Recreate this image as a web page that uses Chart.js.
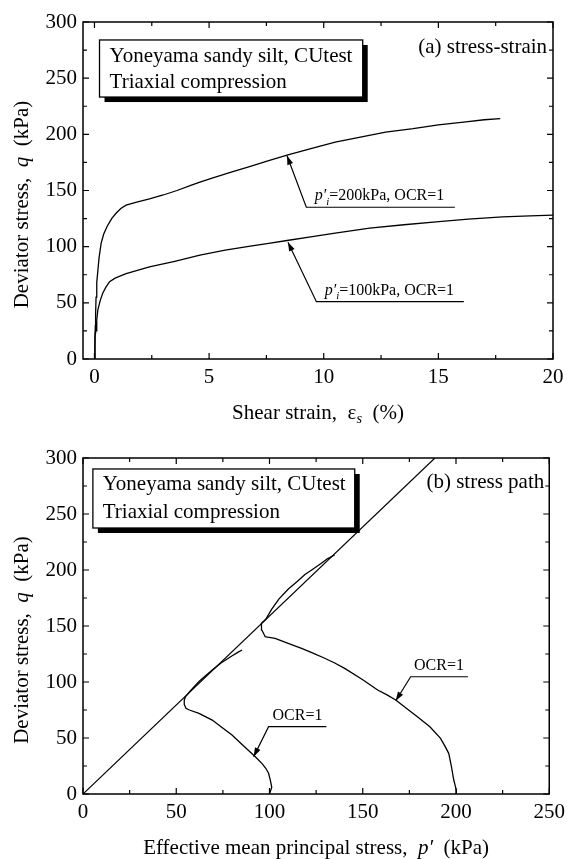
<!DOCTYPE html>
<html><head><meta charset="utf-8">
<script src="https://cdn.jsdelivr.net/npm/chart.js@4/dist/chart.umd.min.js"></script>
<style>
html,body{margin:0;padding:0;background:#fff;width:571px;height:859px;overflow:hidden;position:relative}
#c1{position:absolute;left:0;top:0}
#c2{position:absolute;left:0;top:430px}
</style></head><body>
<canvas id="c1" width="571" height="430"></canvas>
<canvas id="c2" width="571" height="429"></canvas>
<script>
// ---------- DATA ----------
// (a) stress-strain
const strain200 = [0,0.02,0.03,0.05,0.07,0.1,0.15,0.2,0.29,0.4,0.55,0.75,0.95,1.15,1.38,1.8,2.4,3.0,3.6,4.2,4.6,5.2,6.0,6.8,7.6,8.4,9.4,10.5,11.6,12.7,13.9,15.0,16.2,17.0,17.7];
const q200      = [0,10,23,40,55,68,79,90,103,111,118,125,130,134,137,139.5,142.5,146,150,154.5,157.5,161.5,166.5,171.5,176.5,181.5,187,193,197.5,202,205,208.5,211,213,214];
const strain100 = [0,0.02,0.04,0.06,0.08,0.1,0.15,0.25,0.36,0.5,0.66,0.9,1.38,2.4,3.5,4.6,5.7,6.8,7.6,8.4,9.5,10.5,12.0,13.5,14.9,16.3,17.8,19.0,20];
const q100      = [0,18,30,33,25,35,44,52,58.5,64,68.8,72,76,82,87,92.5,97,100.5,103,105.5,109,112,116.5,119.5,122,124.5,126.5,127.5,128];
// (b) stress path
const pPath100 = [100,100.4,101.2,100.5,99.5,98,95.9,92.4,86,79.9,74,69.3,62.2,57,55.2,54.3,54.3,55,58,62.2,66,69.3,74,80,83,85.3];
const qPath100 = [0,2,6,12,18.5,23,27.4,33.3,43,52.7,60,66,72,75,76.5,80,84,87,93,100.5,106,110.7,117,123.5,126.5,128.6];
const pPath200 = [200,200.2,199.5,198.8,197.5,196.1,194,191.7,186,179.3,173,167.7,163,158,150,140.3,135,129.6,123,117.2,110,103,99,97.7,95.9,95.5,95.9,98,101.2,105,110.1,115,119,123,127.8,131,134.9];
const qPath200 = [0,3,8,12.5,25,36.3,43,49.7,60,69,77,83.9,88.5,92.9,102,112.2,117,121.2,126,130,134.5,139,140,140.4,146.4,150,152.4,156,165,174,183,190,196,200.5,206,210,213.4];
const csLineP = [0,188.7];
const csLineQ = [0,300];
// ticks
const xTicksA = [0,5,10,15,20];
const xMinorA = [2.5,7.5,12.5,17.5];
const xTicksB = [0,50,100,150,200,250];
const xMinorB = [25,75,125,175,225];
const yTicks = [0,50,100,150,200,250,300];
const yMinor = [25,75,125,175,225,275];

// ---------- helpers ----------
const SERIF = '"Liberation Serif","Times New Roman",serif';
function pts(xs, ys){ return xs.map((x,i)=>({x:x, y:ys[i]})); }
function lineDs(xs, ys, w){ return {data:pts(xs,ys), showLine:true, borderColor:'#000', borderWidth:w||1.3, pointRadius:0, fill:false, tension:0}; }

function richWidth(ctx, segs, size){
  let w=0;
  segs.forEach(s=>{ const fs = s.sub? size*0.68 : size; ctx.font=(s.it?'italic ':'')+fs+'px '+SERIF; w+=ctx.measureText(s.t).width; });
  return w;
}
function drawRich(ctx, segs, x, y, size, align){
  const w = richWidth(ctx, segs, size);
  let cx = align==='center' ? x-w/2 : (align==='right' ? x-w : x);
  ctx.textAlign='left';
  segs.forEach(s=>{
    const fs = s.sub? size*0.68 : size;
    ctx.font=(s.it?'italic ':'')+fs+'px '+SERIF;
    ctx.fillText(s.t, cx, y + (s.sub? size*0.28 : 0));
    cx += ctx.measureText(s.t).width;
  });
}

const decoPlugin = {
  id:'deco',
  afterDraw(chart){
    const d = chart.options.plugins.deco; if(!d) return;
    const ctx = chart.ctx, a = chart.chartArea;
    const xs = chart.scales.x, ys = chart.scales.y;
    const X = v=>xs.getPixelForValue(v), Y = v=>ys.getPixelForValue(v);
    ctx.save();
    ctx.fillStyle='#000'; ctx.strokeStyle='#000';
    // frame
    ctx.lineWidth=1.5;
    ctx.strokeRect(a.left, a.top, a.right-a.left, a.bottom-a.top);
    // ticks
    ctx.lineWidth=1.2;
    ctx.beginPath();
    const tk = (vals, len)=>{
      vals.forEach(v=>{ const p=X(v);
        ctx.moveTo(p,a.bottom); ctx.lineTo(p,a.bottom-len);
        ctx.moveTo(p,a.top); ctx.lineTo(p,a.top+len); });
    };
    const tky = (vals, len)=>{
      vals.forEach(v=>{ const p=Y(v);
        ctx.moveTo(a.left,p); ctx.lineTo(a.left+len,p);
        ctx.moveTo(a.right,p); ctx.lineTo(a.right-len,p); });
    };
    tk(d.xMajor,6); tk(d.xMinor,4); tky(yTicks,6); tky(yMinor,4);
    ctx.stroke();
    // box with shadow
    const b = d.box;
    const bx1=X(b.x0), bx2=X(b.x1), by1=Y(b.y0), by2=Y(b.y1);
    ctx.fillStyle='#000';
    ctx.fillRect(bx1+5, by1+5, bx2-bx1, by2-by1);
    ctx.fillStyle='#fff';
    ctx.fillRect(bx1, by1, bx2-bx1, by2-by1);
    ctx.lineWidth=1.3; ctx.strokeStyle='#000';
    ctx.strokeRect(bx1, by1, bx2-bx1, by2-by1);
    ctx.fillStyle='#000';
    ctx.textBaseline='alphabetic';
    b.lines.forEach((t,i)=>{ drawRich(ctx,[{t:t}], X(b.tx), Y(b.ty[i]), 21, 'left'); });
    // panel label
    drawRich(ctx,[{t:d.tag.text}], X(d.tag.x), Y(d.tag.y), 21, 'right');
    // annotations
    d.notes.forEach(n=>{
      const ax=X(n.anchor[0]), ay=Y(n.anchor[1]);
      const ex=X(n.lineEnd), tx=X(n.tip[0]), ty=Y(n.tip[1]);
      ctx.lineWidth=1.2;
      ctx.beginPath(); ctx.moveTo(ex,ay); ctx.lineTo(ax,ay); ctx.lineTo(tx,ty); ctx.stroke();
      const ang=Math.atan2(ty-ay, tx-ax), L=9, W=3;
      ctx.beginPath();
      ctx.moveTo(tx,ty);
      ctx.lineTo(tx-L*Math.cos(ang)+W*Math.sin(ang), ty-L*Math.sin(ang)-W*Math.cos(ang));
      ctx.lineTo(tx-L*Math.cos(ang)-W*Math.sin(ang), ty-L*Math.sin(ang)+W*Math.cos(ang));
      ctx.closePath(); ctx.fill();
      drawRich(ctx, n.segs, X(n.textAt[0]), Y(n.textAt[1]), 16, 'left');
    });
    // axis titles
    ctx.textBaseline='middle';
    drawRich(ctx, d.xTitle, (a.left+a.right)/2, a.bottom+54, 21, 'center');
    ctx.save();
    ctx.translate(22.7, (a.top+a.bottom)/2+14);
    ctx.rotate(-Math.PI/2);
    drawRich(ctx, d.yTitle, 0, 0, 21, 'center');
    ctx.restore();
    ctx.restore();
  }
};

function scales(xmin,xmax,xt,xh){
  const tf = {family:SERIF, size:21};
  return {
    x:{type:'linear', min:xmin, max:xmax,
       afterBuildTicks:s=>{ s.ticks = xt.map(v=>({value:v})); },
       afterFit:s=>{ s.height = xh; },
       ticks:{font:tf, color:'#000', padding:6, maxRotation:0, autoSkip:false},
       grid:{display:false, drawTicks:false}, border:{display:false}},
    y:{type:'linear', min:0, max:300,
       afterBuildTicks:s=>{ s.ticks = yTicks.map(v=>({value:v})); },
       afterFit:s=>{ s.width = 83; },
       ticks:{font:tf, color:'#000', padding:6, autoSkip:false},
       grid:{display:false, drawTicks:false}, border:{display:false}}
  };
}

const yTitle = [{t:'Deviator stress,  '},{t:'q',it:true},{t:'  (kPa)'}];

new Chart(document.getElementById('c1'), {
  type:'scatter',
  data:{datasets:[lineDs(strain200,q200), lineDs(strain100,q100)]},
  options:{
    responsive:false, animation:false, events:[],
    layout:{padding:{left:0, right:18, top:22, bottom:0}},
    scales:scales(-0.5,20,xTicksA,71),
    plugins:{legend:{display:false}, tooltip:{enabled:false},
      deco:{
        xMajor:xTicksA, xMinor:xMinorA,
        box:{x0:0.22, x1:11.7, y0:284, y1:233.2, tx:0.66, ty:[264.7,241], lines:['Yoneyama sandy silt, CUtest','Triaxial compression']},
        tag:{text:'(a) stress-strain', x:19.74, y:272.4},
        notes:[
          {tip:[8.4,181], anchor:[9.24,135.1], lineEnd:15.72, textAt:[9.61,141.5],
           segs:[{t:'p′',it:true},{t:'i',it:true,sub:true},{t:'=200kPa, OCR=1'}]},
          {tip:[8.44,104], anchor:[9.68,51], lineEnd:16.11, textAt:[10.04,57],
           segs:[{t:'p′',it:true},{t:'i',it:true,sub:true},{t:'=100kPa, OCR=1'}]}
        ],
        xTitle:[{t:'Shear strain,  '},{t:'ε'},{t:'s',it:true,sub:true},{t:'  (%)'}],
        yTitle:yTitle
      }}
  },
  plugins:[decoPlugin]
});

new Chart(document.getElementById('c2'), {
  type:'scatter',
  data:{datasets:[lineDs(csLineP,csLineQ,1.2), lineDs(pPath100,qPath100), lineDs(pPath200,qPath200)]},
  options:{
    responsive:false, animation:false, events:[],
    layout:{padding:{left:0, right:18, top:28, bottom:0}},
    scales:scales(0,250,xTicksB,65),
    plugins:{legend:{display:false}, tooltip:{enabled:false},
      deco:{
        xMajor:xTicksB, xMinor:xMinorB,
        box:{x0:5.3, x1:145.7, y0:290.2, y1:237.5, tx:10.6, ty:[271.4,246.4], lines:['Yoneyama sandy silt, CUtest','Triaxial compression']},
        tag:{text:'(b) stress path', x:247.3, y:273.2},
        notes:[
          {tip:[167.7,83.3], anchor:[175.7,104.7], lineEnd:206.4, textAt:[177.5,110.7], segs:[{t:'OCR=1'}]},
          {tip:[91.5,33.3], anchor:[99.5,60.1], lineEnd:130.5, textAt:[101.6,66], segs:[{t:'OCR=1'}]}
        ],
        xTitle:[{t:'Effective mean principal stress,  '},{t:'p′',it:true},{t:'  (kPa)'}],
        yTitle:yTitle
      }}
  },
  plugins:[decoPlugin]
});
</script>
</body></html>
